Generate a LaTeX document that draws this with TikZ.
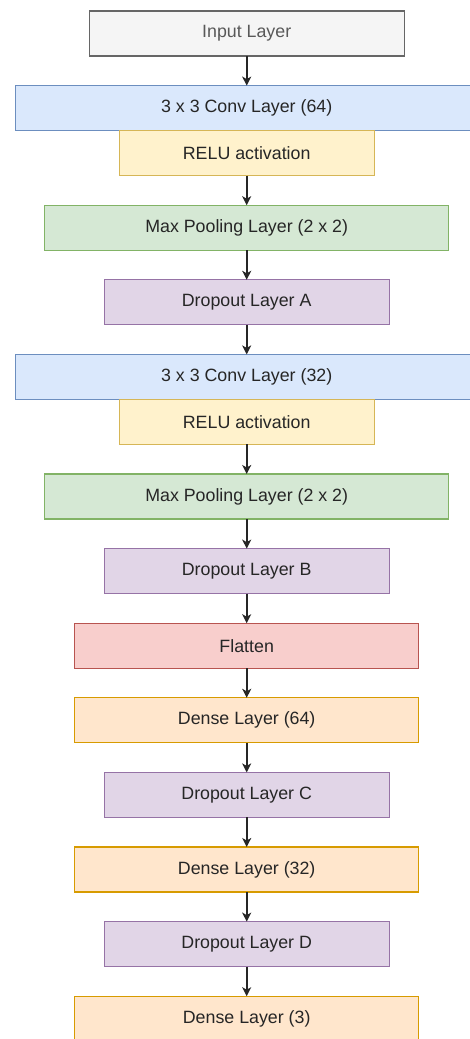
\documentclass[tikz,border=0pt]{standalone}
\usepackage{fontspec}
\setmainfont{Liberation Sans}
\usepackage{tikz}
\usetikzlibrary{arrows.meta, positioning}

\definecolor{grayfill}{HTML}{F5F5F5}
\definecolor{graydraw}{HTML}{666666}
\definecolor{bluefill}{HTML}{DAE8FC}
\definecolor{bluedraw}{HTML}{6C8EBF}
\definecolor{yellowfill}{HTML}{FFF2CC}
\definecolor{yellowdraw}{HTML}{D6B656}
\definecolor{greenfill}{HTML}{D5E8D4}
\definecolor{greendraw}{HTML}{82B366}
\definecolor{purplefill}{HTML}{E1D5E7}
\definecolor{purpledraw}{HTML}{9673A6}
\definecolor{redfill}{HTML}{F8CECC}
\definecolor{reddraw}{HTML}{B85450}
\definecolor{orangefill}{HTML}{FFE6CC}
\definecolor{orangedraw}{HTML}{D79B00}

\begin{document}
\begin{tikzpicture}[
    node distance=29.6pt,
    layer/.style={rectangle, line width=1.2pt, minimum height=45pt, inner sep=0pt, outer sep=0pt,
      font=\fontsize{17.8}{20}\selectfont, text=black!85},
    inlayer/.style={layer, draw=graydraw, fill=grayfill, text=black!65, minimum width=315pt},
    convlayer/.style={layer, draw=bluedraw, fill=bluefill, minimum width=463pt},
    actlayer/.style={layer, draw=yellowdraw, fill=yellowfill, minimum width=255pt},
    poollayer/.style={layer, draw=greendraw, fill=greenfill, minimum width=404pt},
    droplayer/.style={layer, draw=purpledraw, fill=purplefill, minimum width=285pt},
    flatlayer/.style={layer, draw=reddraw, fill=redfill, minimum width=344pt},
    denselayer/.style={layer, draw=orangedraw, fill=orangefill, minimum width=344pt},
    flowedge/.style={-{Stealth[length=9pt, width=9pt, inset=2.5pt]}, line width=1.6pt, black!85}
  ]

  \clip (0,0) rectangle (470pt,-1039pt);

  \node[inlayer] (inp) at (246.7pt,-33.5pt) {Input Layer};
  \node[convlayer, below=of inp] (conv1) {3 x 3 Conv Layer (64)};
  \node[actlayer, below=0pt of conv1] (relu1) {RELU activation};
  \node[poollayer, below=of relu1] (pool1) {Max Pooling Layer (2 x 2)};
  \node[droplayer, below=of pool1] (dropa) {Dropout Layer A};
  \node[convlayer, below=of dropa] (conv2) {3 x 3 Conv Layer (32)};
  \node[actlayer, below=0pt of conv2] (relu2) {RELU activation};
  \node[poollayer, below=of relu2] (pool2) {Max Pooling Layer (2 x 2)};
  \node[droplayer, below=of pool2] (dropb) {Dropout Layer B};
  \node[flatlayer, below=of dropb] (flat) {Flatten};
  \node[denselayer, below=of flat] (dense1) {Dense Layer (64)};
  \node[droplayer, below=of dense1] (dropc) {Dropout Layer C};
  \node[denselayer, below=of dropc] (dense2) {Dense Layer (32)};
  \node[droplayer, below=of dense2] (dropd) {Dropout Layer D};
  \node[denselayer, below=of dropd] (dense3) {Dense Layer (3)};

  % Forward edges
  \draw[flowedge] (inp) -- (conv1);
  \draw[flowedge] (relu1) -- (pool1);
  \draw[flowedge] (pool1) -- (dropa);
  \draw[flowedge] (dropa) -- (conv2);
  \draw[flowedge] (relu2) -- (pool2);
  \draw[flowedge] (pool2) -- (dropb);
  \draw[flowedge] (dropb) -- (flat);
  \draw[flowedge] (flat) -- (dense1);
  \draw[flowedge] (dense1) -- (dropc);
  \draw[flowedge] (dropc) -- (dense2);
  \draw[flowedge] (dense2) -- (dropd);
  \draw[flowedge] (dropd) -- (dense3);

\end{tikzpicture}
\end{document}
